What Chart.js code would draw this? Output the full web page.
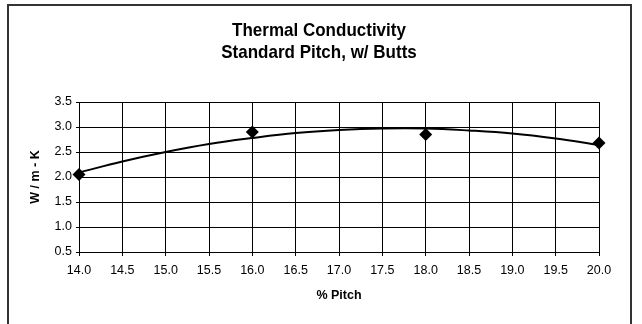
<!DOCTYPE html>
<html>
<head>
<meta charset="utf-8">
<script src="https://cdn.jsdelivr.net/npm/chart.js@4/dist/chart.umd.min.js"></script>
<style>
  html, body { margin: 0; padding: 0; background: #fff; }
  canvas { display: block; }
</style>
</head>
<body>
<canvas id="c" width="642" height="324"></canvas>
<script>
// ---- data ----
const titleLines = ["Thermal Conductivity", "Standard Pitch, w/ Butts"];
const xTitle = "% Pitch";
const yTitle = "W / m - K";
const pitch = [14, 16, 18, 20];
const conductivity = [2.05, 2.90, 2.85, 2.68];
// polynomial trend line
const trendPitch = [14, 14.5, 15, 15.5, 16, 16.5, 17, 17.5, 18, 18.5, 19, 19.5, 20];
const trendValues = [2.09, 2.31, 2.50, 2.66, 2.78, 2.88, 2.94, 2.97, 2.97, 2.93, 2.87, 2.77, 2.64];
const xMin = 14, xMax = 20, xStep = 0.5;
const yMin = 0.5, yMax = 3.5, yStep = 0.5;

const FONT = "'Liberation Sans', Arial, sans-serif";

const frameAndTitle = {
  id: 'frameAndTitle',
  beforeDraw(chart) {
    const ctx = chart.ctx;
    ctx.save();
    ctx.fillStyle = '#fff';
    ctx.fillRect(0, 0, chart.width, chart.height);
    ctx.strokeStyle = '#333';
    ctx.lineWidth = 2;
    ctx.strokeRect(8, 5, 623, 340);
    ctx.restore();
  },
  afterDraw(chart) {
    const ctx = chart.ctx;
    ctx.save();
    ctx.fillStyle = '#000';
    ctx.textAlign = 'center';
    ctx.textBaseline = 'middle';
    ctx.font = "bold 17px " + FONT;
    const ys = [31, 53];
    titleLines.forEach((t, i) => {
      ctx.save();
      ctx.translate(319, ys[i]);
      ctx.scale(1, 1.12);
      ctx.fillText(t, 0, 0);
      ctx.restore();
    });
    ctx.restore();
  }
};

const trendPoints = trendPitch.map((x, i) => ({ x, y: trendValues[i] }));
const dataPoints = pitch.map((x, i) => ({ x, y: conductivity[i] }));

new Chart(document.getElementById('c'), {
  type: 'scatter',
  data: {
    datasets: [
      {
        label: 'Measured',
        data: dataPoints,
        pointStyle: 'rectRot',
        pointRadius: 6.5,
        pointHoverRadius: 6.5,
        backgroundColor: '#000',
        borderColor: '#000',
        borderWidth: 0,
        showLine: false,
        clip: false
      },
      {
        label: 'Trend',
        data: trendPoints,
        showLine: true,
        pointRadius: 0,
        borderColor: '#000',
        borderWidth: 2,
        tension: 0.4,
        fill: false,
        clip: false
      }
    ]
  },
  options: {
    responsive: false,
    animation: false,
    events: [],
    layout: { padding: { left: 20, top: 102, right: 43, bottom: 0 } },
    plugins: {
      legend: { display: false },
      title: { display: false },
      tooltip: { enabled: false }
    },
    scales: {
      x: {
        type: 'linear',
        min: xMin, max: xMax,
        ticks: {
          stepSize: xStep,
          color: '#000',
          font: { family: FONT, size: 12.5 },
          padding: 7,
          maxRotation: 0,
          callback: v => Number(v).toFixed(1)
        },
        grid: { color: '#000', lineWidth: 1, tickLength: 4 },
        border: { color: '#000', width: 1 },
        title: {
          display: true, text: xTitle, color: '#000',
          font: { family: FONT, size: 12.5, weight: 'bold' },
          padding: { top: 0, bottom: 21 }
        },
        afterFit(s) { s.height = 72; }
      },
      y: {
        type: 'linear',
        min: yMin, max: yMax,
        ticks: {
          stepSize: yStep,
          color: '#000',
          font: { family: FONT, size: 12.5 },
          padding: 4,
          callback: v => Number(v).toFixed(1)
        },
        grid: { color: '#000', lineWidth: 1, tickLength: 3 },
        border: { color: '#000', width: 1 },
        title: {
          display: true, text: yTitle, color: '#000',
          font: { family: FONT, size: 12.5, weight: 'bold' },
          padding: { top: 8, bottom: 0 }
        },
        afterFit(s) { s.width = 59; }
      }
    }
  },
  plugins: [frameAndTitle]
});
</script>
</body>
</html>
